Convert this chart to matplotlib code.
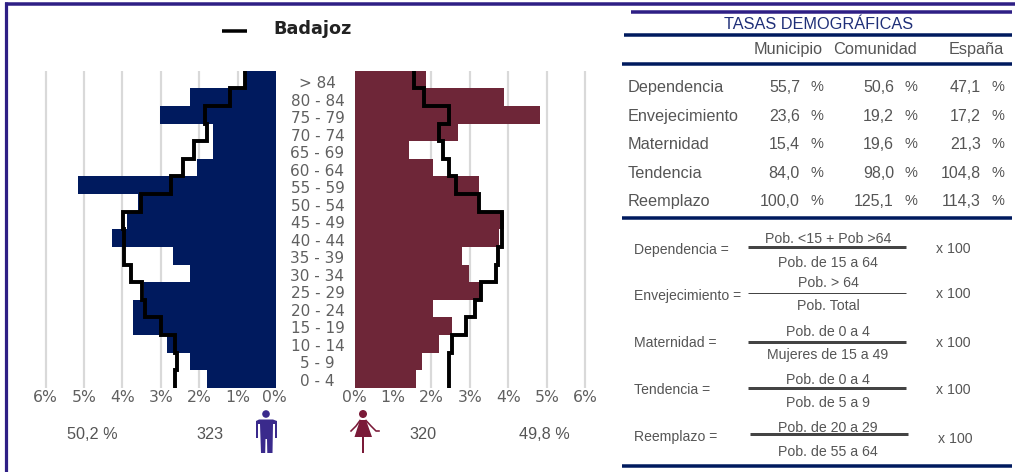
import matplotlib
matplotlib.use("Agg")
import matplotlib.pyplot as plt
from matplotlib.patches import Circle, Polygon, Rectangle
import numpy as np

age_groups = ["> 84", "80 - 84", "75 - 79", "70 - 74", "65 - 69", "60 - 64", "55 - 59", "50 - 54", "45 - 49",
              "40 - 44", "35 - 39", "30 - 34", "25 - 29", "20 - 24", "15 - 19", "10 - 14", "5 - 9", "0 - 4"]
male_town = [0.8, 2.24, 3.01, 1.63, 1.63, 2.07, 5.15, 3.6, 3.89, 4.27, 2.68, 2.24, 3.45, 3.72, 3.72, 2.85, 2.24, 1.8]
female_town = [1.86, 3.89, 4.83, 2.68, 1.42, 2.03, 3.23, 3.2, 3.89, 3.75, 2.8, 2.97, 3.27, 2.03, 2.53, 2.2, 1.75, 1.6]
male_prov = [0.81, 1.2, 1.86, 1.79, 2.13, 2.41, 2.73, 3.52, 3.99, 3.95, 3.95, 3.78, 3.5, 3.4, 3.0, 2.62, 2.57, 2.62]
female_prov = [1.54, 1.81, 2.47, 2.19, 2.3, 2.47, 2.63, 3.24, 3.84, 3.84, 3.72, 3.67, 3.29, 3.13, 2.9, 2.53, 2.47, 2.47]
pct_ticks = [0, 1, 2, 3, 4, 5, 6]

rate_names = ["Dependencia", "Envejecimiento", "Maternidad", "Tendencia", "Reemplazo"]
rate_columns = ["Municipio", "Comunidad", "España"]
rate_municipio = ["55,7", "23,6", "15,4", "84,0", "100,0"]
rate_comunidad = ["50,6", "19,2", "19,6", "98,0", "125,1"]
rate_espana = ["47,1", "17,2", "21,3", "104,8", "114,3"]
numerators = ["Pob. <15 + Pob >64", "Pob. > 64", "Pob. de 0 a 4", "Pob. de 0 a 4", "Pob. de 20 a 29"]
denominators = ["Pob. de 15 a 64", "Pob. Total", "Mujeres de 15 a 49", "Pob. de 5 a 9", "Pob. de 55 a 64"]

W, H = 1015, 472
NAVY, MAROON, PURPLE = "#001a5e", "#6e2638", "#2e1f85"
GREY, GRID = "#555555", "#d9d9d9"
SANS = "Liberation Sans"
px = 72 / 100

fig = plt.figure(figsize=(W / 100, H / 100), dpi=100, facecolor="white")


def panel(x0, x1, y0, y1):
    return fig.add_axes([x0 / W, 1 - y1 / H, (x1 - x0) / W, (y1 - y0) / H])


top, bottom = 70.7, 388
span = 6.15
axL = panel(276 - span * 38.4, 276, top, bottom)
axR = panel(354.5, 354.5 + span * 38.45, top, bottom)
edges = np.arange(len(age_groups) + 1)
rows = edges[:-1] + 0.5
for ax, town, prov, col, lim in [(axL, male_town, male_prov, NAVY, (span, 0)),
                                 (axR, female_town, female_prov, MAROON, (0, span))]:
    ax.barh(rows, town, height=1.0, color=col, zorder=2)
    ax.stairs(prov, edges, orientation="horizontal", baseline=None, color="black", lw=3.9 * px, zorder=3)
    ax.set_xlim(*lim)
    ax.set_ylim(len(age_groups), 0)
    ax.set_xticks(pct_ticks[1:])
    ax.set_yticks([])
    ax.grid(axis="x", color=GRID, lw=2.2 * px, zorder=0)
    ax.tick_params(length=0, labelbottom=False)
    ax.patch.set_alpha(0)
    for s in ax.spines.values():
        s.set_visible(False)

ov = fig.add_axes([0, 0, 1, 1], zorder=10)
ov.set_xlim(0, W)
ov.set_ylim(H, 0)
ov.axis("off")


def hline(x0, x1, y, lw, c):
    ov.plot([x0, x1], [y, y], color=c, lw=lw * px, solid_capstyle="butt")


def txt(x, y, s, ha="left", size=14.0, c=GREY, fam=SANS, **kw):
    ov.text(x, y + 0.36 * size, s, ha=ha, va="baseline", fontsize=size * px, color=c, family=fam, **kw)


# frame
hline(5, W, 3.5, 3.5, PURPLE)
ov.plot([6.5, 6.5], [2, H], color=PURPLE, lw=3.2 * px, solid_capstyle="butt")

# legend
hline(222, 247, 30.5, 3.5, "black")
txt(273, 28, "Badajoz", size=17.6, c="#222222", fam="DejaVu Sans", weight="bold")

# age labels and axis labels
for i, g in enumerate(age_groups):
    txt(317.5, 83 + 17.5 * i, g, ha="center", size=15.2, c="#606060", fam="DejaVu Sans")
for p in pct_ticks:
    txt(276 - p * 38.4 - 2 * (p == 0), 396.5, f"{p}%", ha="center", size=15.6, c="#606060", fam="DejaVu Sans")
    txt(354.5 + p * 38.45, 396.5, f"{p}%", ha="center", size=15.6, c="#606060", fam="DejaVu Sans")

# totals
txt(92, 433, "50,2 %", ha="center", size=16.2)
txt(210, 433, "323", ha="center", size=16.2)
txt(423, 433, "320", ha="center", size=16.2)
txt(544, 433, "49,8 %", ha="center", size=16.2)

# male icon
mc = "#3a2a8c"
ov.add_patch(Circle((266, 414), 3.8, color=mc, lw=0))
ov.add_patch(Polygon([(256, 421), (259, 419.5), (273, 419.5), (277, 421), (277, 438), (275, 438), (275, 424),
                      (273, 424), (272.5, 453), (267.3, 453), (267, 439), (265.5, 439), (265.2, 453), (261, 453),
                      (260, 424), (258, 424), (258, 438), (256, 438)], color=mc, lw=0))
# female icon
fc = "#7a1a38"
ov.add_patch(Circle((363, 414), 4, color=fc, lw=0))
ov.add_patch(Polygon([(360, 420), (366, 420), (372, 437), (354.5, 437)], color=fc, lw=0))
ov.plot([351, 356, 360], [431, 426, 420.5], color=fc, lw=1.6 * px)
ov.plot([379, 376, 371, 366], [431, 431, 426, 420.5], color=fc, lw=1.6 * px)
ov.add_patch(Rectangle((362, 436), 2.4, 17, color=fc, lw=0))

# rates table
hline(631, 1012, 11.5, 3.5, PURPLE)
hline(624, 1012, 35, 3.5, NAVY)
hline(622, 1012, 64, 3.5, NAVY)
hline(622, 1012, 218, 3.5, NAVY)
hline(622, 1012, 466, 3.5, NAVY)
txt(819, 23, "TASAS DEMOGRÁFICAS", ha="center", size=16.2, c="#1f2f78")
txt(823, 48, rate_columns[0], ha="right", size=16.2)
txt(917, 48, rate_columns[1], ha="right", size=16.4)
txt(1004, 48, rate_columns[2], ha="right", size=16.2)
row_y = [86, 115, 143, 172, 200]
for i, y in enumerate(row_y):
    txt(628, y, rate_names[i], size=16.2)
    for vals, xn, xp in [(rate_municipio, 800, 823), (rate_comunidad, 894, 917), (rate_espana, 981, 1004)]:
        txt(xn, y, vals[i], ha="right", size=16)
        txt(xp, y, "%", ha="right", size=14.6)

# formulas
lab_y = [249, 295, 342, 389, 436]
bar_y = [247, 293, 342, 388, 434]
bar_lw = [3, 1, 3, 3, 3]
num_y = [238, 282, 331, 379, 427]
den_y = [262, 305, 354, 402, 451]
x100_y = [248, 293, 342, 389, 438]
for i in range(5):
    off = 2 if i == 4 else 0
    txt(634, lab_y[i], rate_names[i] + " =", size=14)
    hline(748 + off, 906 + off, bar_y[i], bar_lw[i], "#444444")
    txt(828, num_y[i], numerators[i], ha="center", size=14.1)
    txt(828, den_y[i], denominators[i], ha="center", size=14.1)
    txt(936 + off, x100_y[i], "x 100", size=14.1)

fig.savefig("out.png", dpi=100, facecolor="white")
